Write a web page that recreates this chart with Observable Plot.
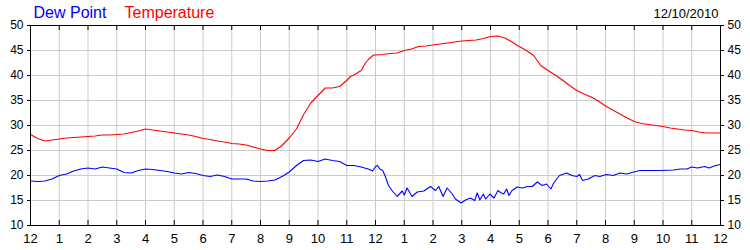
<!DOCTYPE html>
<html>
<head>
<meta charset="utf-8">
<script src="https://cdn.jsdelivr.net/npm/d3@7"></script>
<script src="https://cdn.jsdelivr.net/npm/@observablehq/plot@0.6"></script>
<style>
  html, body { margin: 0; padding: 0; background: #fff; }
</style>
</head>
<body>
<div id="chart"></div>
<script>
// Hours since midnight (0-24) and values (°F)
const tempHours = [0,0.25,0.5,0.75,1,1.25,1.5,1.75,2,2.25,2.5,2.75,3,3.25,3.5,3.75,4,4.25,4.5,4.75,5,5.25,5.5,5.75,6,6.25,6.5,6.75,7,7.25,7.5,7.75,8,8.25,8.5,8.75,9,9.25,9.5,9.75,10,10.25,10.5,10.75,11,11.13,11.25,11.5,11.65,11.75,11.93,12,12.25,12.5,12.75,13,13.25,13.5,13.75,14,14.25,14.5,14.75,15,15.25,15.5,15.75,16,16.25,16.5,16.75,17,17.25,17.5,17.75,18,18.25,18.5,18.75,19,19.25,19.5,19.75,20,20.25,20.5,20.75,21,21.25,21.5,21.75,22,22.25,22.5,22.75,23,23.25,23.5,23.75,24];
const tempValues = [28.2,27.4,26.9,27.1,27.3,27.5,27.6,27.7,27.8,27.9,28.1,28.1,28.2,28.3,28.6,28.9,29.3,29.1,28.9,28.7,28.5,28.3,28.1,27.8,27.4,27.2,26.9,26.7,26.4,26.3,26.1,25.7,25.3,25.0,25.0,26.0,27.5,29.3,32.2,34.5,36.0,37.5,37.5,37.8,39.0,39.8,40.1,41.0,42.5,43.2,44.1,44.1,44.2,44.4,44.5,45.0,45.3,45.8,45.9,46.1,46.3,46.5,46.7,46.9,47.0,47.1,47.4,47.8,47.9,47.5,46.7,45.8,45.0,44.0,42.0,41.0,40.1,39.1,38.0,37.0,36.3,35.7,34.9,33.9,33.1,32.3,31.5,30.8,30.4,30.2,30.0,29.8,29.5,29.3,29.1,29.0,28.7,28.5,28.5,28.5];

const dewHours = [0,0.25,0.5,0.75,1,1.25,1.5,1.75,2,2.25,2.5,2.75,3,3.25,3.5,3.75,4,4.25,4.5,4.75,5,5.25,5.5,5.75,6,6.25,6.5,6.75,7,7.25,7.5,7.75,8,8.25,8.5,8.75,9,9.25,9.5,9.75,10,10.25,10.5,10.75,11,11.25,11.5,11.75,11.9,12,12.07,12.15,12.25,12.35,12.45,12.6,12.75,12.93,13.0,13.1,13.27,13.45,13.68,13.91,14.09,14.2,14.35,14.49,14.67,14.78,14.98,15.13,15.3,15.45,15.54,15.63,15.75,15.83,15.98,16.12,16.26,16.35,16.46,16.56,16.64,16.75,16.93,17.1,17.28,17.45,17.63,17.8,17.95,18.1,18.2,18.3,18.4,18.65,18.83,19.0,19.1,19.2,19.4,19.63,19.8,20.03,20.27,20.5,20.74,20.98,21.2,21.45,21.9,22.36,22.6,22.83,23.0,23.2,23.45,23.6,23.83,24];
const dewValues = [18.9,18.8,18.9,19.3,20.0,20.3,20.9,21.3,21.5,21.3,21.7,21.5,21.3,20.6,20.5,21.0,21.3,21.2,21.0,20.8,20.5,20.3,20.6,20.4,20.0,19.8,20.1,19.8,19.3,19.3,19.3,18.9,18.8,18.9,19.1,19.8,20.7,22.0,23.0,23.1,22.8,23.3,23.0,22.8,22.0,22.0,21.7,21.3,20.9,21.8,22.0,21.3,21.0,19.7,18.0,16.8,15.8,16.9,16.1,17.5,15.8,16.7,16.9,17.8,17.0,17.8,15.8,17.5,16.3,15.3,14.5,15.1,15.5,15.0,16.5,15.1,16.3,15.3,16.3,15.5,17.0,16.6,16.3,17.3,16.0,17.0,17.7,17.5,17.8,17.8,18.7,18.0,18.3,17.3,18.5,19.3,20.0,20.5,20.0,19.8,20.2,19.0,19.3,20.0,19.8,20.2,20.0,20.5,20.3,20.7,21.0,21.0,21.0,21.1,21.3,21.3,21.7,21.5,21.8,21.5,22.0,22.2];

const hourTicks = d3.range(0, 25, 1);
const yTicks = [10, 15, 20, 25, 30, 35, 40, 45, 50];
const seriesNames = ["Dew Point", "Temperature"];
const seriesColors = ["#0000ff", "#ff0000"];
const dateLabel = ["12/10/2010"];

const temp = tempHours.map((h, i) => ({h, v: tempValues[i]}));
const dew = dewHours.map((h, i) => ({h, v: dewValues[i]}));

const chart = Plot.plot({
  width: 750,
  height: 250,
  marginLeft: 30,
  marginRight: 30,
  marginTop: 25,
  marginBottom: 25,
  style: {fontFamily: "'Liberation Sans', Arial, sans-serif", fontSize: "12px", background: "#fff", color: "#000"},
  x: {domain: [0, 24], label: null},
  y: {domain: [10, 50], label: null},
  marks: [
    Plot.gridX(hourTicks, {stroke: "#cccccc", strokeOpacity: 1}),
    Plot.gridY(yTicks, {stroke: "#cccccc", strokeOpacity: 1}),
    Plot.line(temp, {x: "h", y: "v", stroke: seriesColors[1], strokeWidth: 1.1}),
    Plot.line(dew, {x: "h", y: "v", stroke: seriesColors[0], strokeWidth: 1.1}),
    Plot.ruleX(hourTicks, {y1: 10, y2: 11, stroke: "#000"}),
    Plot.ruleX(hourTicks, {y1: 49, y2: 50, stroke: "#000"}),
    Plot.frame({stroke: "#000"}),
    Plot.axisX(hourTicks, {anchor: "bottom", tickSize: 0, tickPadding: 8, fontSize: 13, label: null, tickFormat: h => String(h % 12 || 12)}),
    Plot.axisY(yTicks, {anchor: "left", tickSize: 3, tickPadding: 4, label: null}),
    Plot.axisY(yTicks, {anchor: "right", tickSize: 3, tickPadding: 4, label: null}),
    Plot.text([seriesNames[0]], {text: d => d, frameAnchor: "top-left", dx: 3, dy: -8, lineAnchor: "bottom", textAnchor: "start", fill: seriesColors[0], fontSize: 16}),
    Plot.text([seriesNames[1]], {text: d => d, frameAnchor: "top-left", dx: 94, dy: -8, lineAnchor: "bottom", textAnchor: "start", fill: seriesColors[1], fontSize: 16}),
    Plot.text(dateLabel, {text: d => d, frameAnchor: "top-right", dx: -2, dy: -8, lineAnchor: "bottom", textAnchor: "end", fill: "#000", fontSize: 13})
  ]
});
document.getElementById("chart").appendChild(chart);
</script>
</body>
</html>
